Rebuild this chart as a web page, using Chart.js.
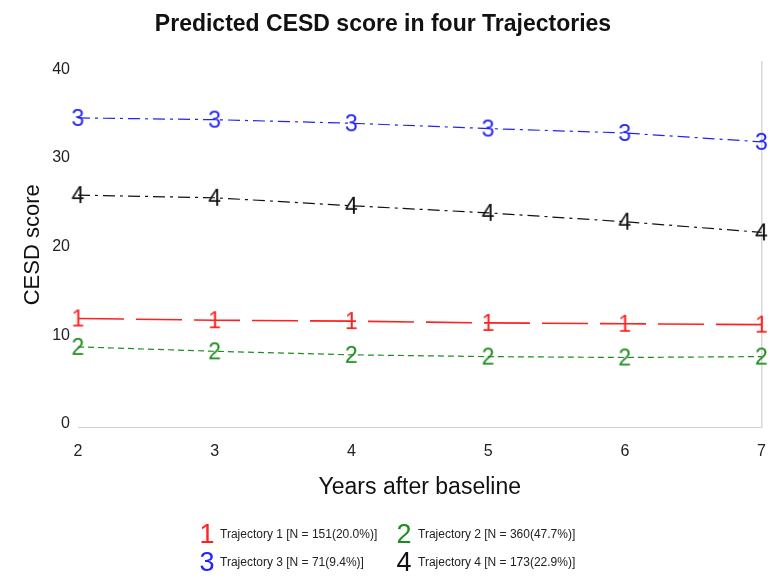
<!DOCTYPE html>
<html>
<head>
<meta charset="utf-8">
<script src="https://cdn.jsdelivr.net/npm/chart.js@4/dist/chart.umd.min.js"></script>
<style>
  html, body { margin: 0; padding: 0; background: #fff; }
  #wrap { position: relative; width: 780px; height: 576px; }
  #c { position: absolute; left: 0; top: 0; }
  .leg { position: absolute; font-family: "Liberation Sans", Arial, sans-serif; white-space: nowrap; }
  .leg .d { position: absolute; font-size: 27px; line-height: 27px; transform: translate(-50%, -50%); }
  .leg .t { position: absolute; font-size: 12px; line-height: 12px; color: #222; transform: translateY(-50%); }
</style>
</head>
<body>
<div id="wrap">
  <canvas id="c" width="780" height="576"></canvas>
  <div id="legend"></div>
</div>
<script>
// Years after baseline
const years = [2, 3, 4, 5, 6, 7];

// Predicted CESD score per trajectory group
const traj1 = [11.9, 11.7, 11.6, 11.4, 11.3, 11.2];
const traj2 = [8.7, 8.2, 7.8, 7.6, 7.5, 7.6];
const traj3 = [34.5, 34.3, 33.9, 33.3, 32.8, 31.8];
const traj4 = [25.8, 25.5, 24.6, 23.8, 22.8, 21.6];

const yTicks = [0, 10, 20, 30, 40];
const xTicks = [2, 3, 4, 5, 6, 7];

const groupDigits = ['1', '2', '3', '4'];
const groupColors = ['#ff2020', '#1e8c1e', '#2222ff', '#111111'];
const groupLabels = [
  'Trajectory 1 [N = 151(20.0%)]',
  'Trajectory 2 [N = 360(47.7%)]',
  'Trajectory 3 [N = 71(9.4%)]',
  'Trajectory 4 [N = 173(22.9%)]'
];

const FONT = '"Liberation Sans", Arial, sans-serif';

// Group number drawn as the point marker, centred on the data point
function digitMarker(ch, color, px) {
  const c = document.createElement('canvas');
  const ctx = c.getContext('2d');
  ctx.font = px + 'px ' + FONT;
  const w = Math.ceil(ctx.measureText(ch).width) + 2;
  const h = Math.ceil(px * 1.1);
  c.width = w; c.height = h;
  const g = c.getContext('2d');
  g.font = px + 'px ' + FONT;
  g.fillStyle = color;
  g.textAlign = 'center';
  g.textBaseline = 'alphabetic';
  g.fillText(ch, w / 2, h / 2 + px * 0.716 / 2);
  return c;
}

function pts(vals) { return years.map((x, i) => ({ x: x, y: vals[i] })); }

const series = [traj1, traj2, traj3, traj4];
const dashes = [[46, 12], [6, 4], [12, 5, 3, 5], [12, 5, 3, 5]];
const widths = [1.6, 1.2, 1.2, 1.2];

const datasets = series.map((vals, k) => ({
  label: groupLabels[k],
  data: pts(vals),
  borderColor: groupColors[k],
  borderWidth: widths[k],
  borderDash: dashes[k],
  pointStyle: digitMarker(groupDigits[k], groupColors[k], 23),
  pointRadius: 10,
  pointHoverRadius: 10,
  tension: 0,
  fill: false,
  clip: false
}));

new Chart(document.getElementById('c'), {
  type: 'line',
  data: { datasets: datasets },
  options: {
    responsive: false,
    animation: false,
    events: [],
    layout: { padding: { left: 0, right: 14, top: 0, bottom: 75 } },
    plugins: {
      legend: { display: false },
      tooltip: { enabled: false },
      title: {
        display: true,
        text: 'Predicted CESD score in four Trajectories',
        color: '#111',
        font: { family: FONT, size: 23, weight: 'bold' },
        padding: { top: 11, bottom: 23.4 }
      }
    },
    scales: {
      x: {
        type: 'linear',
        min: 2, max: 7,
        afterBuildTicks: s => { s.ticks = xTicks.map(v => ({ value: v })); },
        afterFit: s => { s.height = 73.4; },
        grid: { display: false, drawTicks: false },
        border: { display: true, color: '#d0d0d0', width: 1 },
        ticks: { color: '#222', font: { family: FONT, size: 16 }, padding: 14, maxRotation: 0 },
        title: {
          display: true, text: 'Years after baseline', color: '#111',
          font: { family: FONT, size: 23 }, padding: { top: 10, bottom: 0 }
        }
      },
      y: {
        min: -0.4, max: 40.8,
        afterBuildTicks: s => { s.ticks = yTicks.map(v => ({ value: v })); },
        afterFit: s => { s.width = 78; },
        grid: { display: false, drawTicks: false },
        border: { display: false },
        ticks: { color: '#222', font: { family: FONT, size: 16 }, padding: 8 },
        title: {
          display: true, text: 'CESD score', color: '#111',
          font: { family: FONT, size: 22 }, padding: { top: 20, bottom: 0 }
        }
      },
      yRight: {
        position: 'right',
        min: -0.4, max: 40.8,
        afterFit: s => { s.width = 0; },
        grid: { display: false, drawTicks: false },
        border: { display: true, color: '#d8d8d8', width: 1.5 },
        ticks: { display: false }
      }
    }
  }
});

// Two-column legend below the plot
const legendPos = [
  { dx: 207, tx: 220, y: 534 },
  { dx: 404, tx: 418, y: 534 },
  { dx: 207, tx: 220, y: 562 },
  { dx: 404, tx: 418, y: 562 }
];
const legendEl = document.getElementById('legend');
groupDigits.forEach((d, k) => {
  const p = legendPos[k];
  const item = document.createElement('div');
  item.className = 'leg';
  item.style.left = '0px';
  item.style.top = '0px';
  const dg = document.createElement('span');
  dg.className = 'd';
  dg.textContent = d;
  dg.style.color = groupColors[k];
  dg.style.left = p.dx + 'px';
  dg.style.top = p.y + 'px';
  const tx = document.createElement('span');
  tx.className = 't';
  tx.textContent = groupLabels[k];
  tx.style.left = p.tx + 'px';
  tx.style.top = p.y + 'px';
  item.appendChild(dg);
  item.appendChild(tx);
  legendEl.appendChild(item);
});
</script>
</body>
</html>
